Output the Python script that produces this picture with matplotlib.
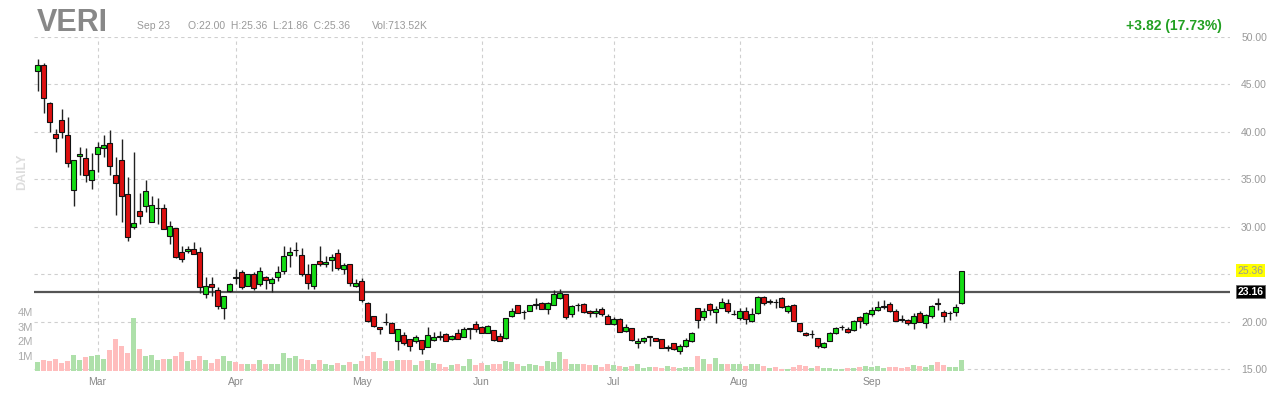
import matplotlib
matplotlib.use("Agg")
import matplotlib.pyplot as plt
import numpy as np
import pandas as pd

plt.rcParams['font.family'] = ['Liberation Sans', 'DejaVu Sans']

# trading calendar, Feb 12 .. Sep 23 2021
holidays = ['2021-02-15', '2021-04-02', '2021-05-31', '2021-07-05', '2021-09-06']
dates = pd.bdate_range('2021-02-12', '2021-09-23')
dates = dates[~dates.isin(pd.to_datetime(holidays))]

opens = [46.4, 47.0, 43.0, 39.8, 41.2, 39.7, 33.9, 37.5, 37.2, 34.9,
         37.7, 38.35, 38.8, 35.45, 37.0, 33.5, 30.0, 31.7, 32.2, 30.5,
         31.95, 31.95, 29.0, 29.85, 27.35, 27.4, 27.7, 27.35, 22.9, 24.0,
         23.3, 21.4, 23.2, 24.75, 25.25, 23.8, 25.0, 24.0, 24.75, 24.1,
         24.65, 25.3, 27.0, 27.5, 27.0, 25.05, 23.8, 26.4, 26.1, 26.45,
         27.2, 25.5, 26.1, 23.8, 24.25, 21.95, 20.6, 19.45, 19.95, 19.9,
         17.9, 18.6, 18.2, 17.9, 18.1, 17.35, 18.05, 18.5, 18.65, 18.2,
         18.75, 18.4, 19.25, 19.7, 19.4, 18.8, 19.15, 18.5, 18.25, 20.6,
         21.7, 21.0, 21.15, 21.75, 22.0, 21.3, 21.7, 22.45, 22.9, 20.75,
         21.7, 21.9, 21.1, 20.95, 21.3, 20.6, 19.75, 20.3, 19.05, 19.3,
         17.7, 18.0, 18.4, 18.25, 18.15, 17.2, 17.7, 16.9, 17.45, 17.95,
         21.45, 20.5, 21.9, 21.05, 21.45, 22.0, 20.75, 20.4, 21.15, 20.1,
         20.9, 22.55, 22.1, 22.1, 22.45, 21.15, 21.75, 19.8, 18.8, 18.7,
         18.25, 17.3, 18.0, 18.8, 19.4, 19.25, 19.1, 20.45, 19.8, 20.8,
         21.2, 21.55, 21.85, 21.1, 20.22, 20.2, 19.8, 20.95, 19.9, 20.55,
         21.95, 21.05, 20.9, 21.0, 22.0]
highs = [47.7, 47.3, 43.15, 40.3, 42.4, 41.6, 37.0, 38.4, 38.3, 37.8,
         38.95, 39.65, 40.2, 37.4, 39.2, 35.2, 37.9, 33.6, 34.9, 33.2,
         33.0, 32.4, 30.6, 29.85, 28.0, 28.0, 28.4, 27.9, 24.7, 24.7,
         23.6, 22.7, 24.1, 25.5, 25.4, 25.0, 25.25, 25.8, 24.8, 24.65,
         25.9, 27.95, 27.85, 28.4, 27.8, 26.1, 26.1, 27.95, 26.9, 27.1,
         27.7, 26.2, 26.1, 24.5, 24.6, 22.05, 20.6, 19.45, 20.9, 19.95,
         19.25, 18.9, 18.2, 18.6, 18.1, 19.45, 18.9, 19.0, 18.75, 18.6,
         19.25, 19.4, 19.25, 20.1, 19.55, 19.6, 19.15, 18.75, 20.35, 21.4,
         21.75, 21.2, 21.8, 22.5, 22.1, 22.1, 23.35, 23.4, 22.9, 21.7,
         22.0, 22.0, 21.2, 21.4, 21.5, 20.75, 20.5, 20.4, 19.75, 19.3,
         18.25, 18.4, 18.5, 18.3, 18.15, 17.55, 17.7, 17.6, 18.25, 18.9,
         21.45, 21.4, 22.0, 21.6, 22.5, 22.4, 21.2, 21.4, 21.5, 21.4,
         22.65, 22.65, 22.4, 22.4, 22.55, 21.7, 21.85, 19.8, 18.95, 19.15,
         18.25, 17.85, 18.95, 19.4, 19.65, 19.4, 20.2, 20.6, 21.0, 21.55,
         22.2, 22.3, 22.1, 21.35, 20.7, 20.3, 20.95, 21.15, 20.8, 21.7,
         22.5, 21.25, 21.15, 21.9, 25.36]
lows = [44.3, 42.0, 40.0, 37.9, 39.4, 36.3, 32.2, 35.5, 34.7, 34.0,
        35.8, 37.4, 35.4, 31.2, 30.5, 28.5, 29.8, 30.3, 31.6, 30.5,
        30.3, 29.8, 28.2, 26.7, 26.3, 27.2, 27.1, 23.0, 22.5, 22.7,
        21.3, 20.3, 23.1, 24.0, 23.4, 23.8, 23.3, 23.8, 23.4, 23.1,
        24.3, 25.0, 25.75, 26.9, 24.8, 23.45, 23.45, 25.85, 25.75, 25.35,
        25.4, 25.0, 23.8, 23.6, 22.05, 19.95, 19.45, 18.7, 19.6, 18.75,
        17.0, 17.5, 16.85, 17.7, 16.6, 17.3, 17.9, 18.1, 18.0, 18.1,
        18.15, 18.4, 18.2, 18.9, 18.8, 18.75, 18.0, 17.9, 18.15, 20.5,
        20.9, 20.3, 21.1, 21.3, 21.35, 20.8, 21.7, 22.4, 20.3, 20.45,
        21.15, 20.9, 20.5, 20.5, 20.6, 19.75, 19.65, 18.9, 18.95, 18.0,
        17.2, 17.7, 17.45, 17.9, 17.2, 16.9, 17.0, 16.55, 17.35, 17.8,
        19.3, 20.2, 20.7, 19.8, 21.4, 20.9, 20.7, 20.2, 19.75, 20.0,
        20.8, 21.7, 21.85, 21.4, 21.4, 20.9, 20.05, 18.9, 18.45, 18.25,
        17.2, 17.2, 17.9, 18.7, 19.15, 18.8, 19.05, 19.3, 19.6, 20.55,
        21.15, 21.3, 21.05, 20.05, 19.95, 19.65, 19.2, 19.95, 19.3, 20.35,
        21.2, 20.0, 20.2, 20.6, 21.86]
closes = [47.0, 43.6, 41.0, 39.4, 40.0, 36.7, 37.0, 37.7, 35.4, 36.0,
          38.4, 38.6, 36.4, 34.6, 33.2, 28.9, 30.4, 31.1, 33.8, 32.3,
          31.95, 29.8, 30.1, 26.8, 26.6, 27.65, 27.1, 23.6, 23.8, 23.6,
          21.6, 22.7, 24.0, 24.55, 23.6, 25.0, 23.5, 25.3, 24.4, 24.45,
          25.2, 26.9, 27.35, 27.5, 25.05, 24.1, 26.05, 26.1, 26.3, 26.85,
          25.7, 25.95, 24.1, 24.1, 22.3, 20.05, 19.55, 19.2, 19.95, 18.8,
          19.25, 17.7, 17.45, 18.4, 17.1, 18.6, 18.4, 18.35, 18.0, 18.5,
          18.15, 19.25, 19.25, 19.2, 18.8, 19.55, 18.05, 18.0, 20.35, 21.15,
          20.95, 21.0, 21.7, 21.9, 21.35, 22.0, 22.9, 23.0, 20.5, 21.6,
          21.7, 21.05, 20.9, 21.15, 20.75, 19.75, 20.25, 18.95, 19.4, 18.05,
          17.95, 18.3, 18.4, 18.0, 17.25, 17.35, 17.1, 17.45, 18.05, 18.75,
          20.15, 21.15, 21.2, 21.3, 22.1, 21.1, 20.75, 21.15, 20.3, 20.8,
          22.55, 21.95, 22.1, 22.05, 21.5, 21.6, 20.1, 19.0, 18.6, 18.7,
          17.4, 17.7, 18.8, 19.35, 19.4, 18.9, 20.1, 20.05, 20.9, 21.2,
          21.5, 21.55, 21.1, 20.1, 20.18, 19.8, 20.6, 20.0, 20.7, 21.6,
          21.9, 20.55, 20.9, 21.5, 25.36]
volumes = [0.61, 0.72, 0.65, 0.79, 0.52, 0.65, 1.06, 0.74, 0.93, 0.99,
           1.06, 0.79, 1.40, 2.14, 1.67, 1.22, 3.59, 1.47, 0.99, 1.06,
           0.72, 0.79, 0.79, 0.99, 1.26, 0.65, 0.72, 0.99, 0.72, 0.52,
           0.79, 0.99, 0.65, 0.59, 0.50, 0.45, 0.50, 0.72, 0.45, 0.45,
           0.45, 1.20, 0.88, 0.99, 0.79, 0.72, 0.45, 0.72, 0.45, 0.38,
           0.54, 0.38, 0.61, 0.45, 0.68, 0.99, 1.26, 0.86, 0.68, 0.68,
           0.74, 0.74, 0.74, 0.38, 0.68, 0.74, 0.54, 0.45, 0.27, 0.38,
           0.45, 0.32, 0.79, 0.38, 0.54, 0.38, 0.45, 0.45, 0.65, 0.60,
           0.45, 0.32, 0.45, 0.40, 0.32, 0.65, 0.60, 1.29, 0.79, 0.50,
           0.50, 0.45, 0.40, 0.40, 0.27, 0.45, 0.38, 0.32, 0.27, 0.32,
           0.50, 0.20, 0.27, 0.27, 0.23, 0.32, 0.27, 0.23, 0.27, 0.27,
           0.99, 0.83, 0.50, 0.90, 0.50, 0.45, 0.45, 0.50, 0.32, 0.45,
           0.45, 0.32, 0.23, 0.27, 0.14, 0.16, 0.27, 0.38, 0.32, 0.23,
           0.32, 0.23, 0.23, 0.16, 0.16, 0.23, 0.23, 0.27, 0.32, 0.27,
           0.32, 0.23, 0.27, 0.27, 0.23, 0.27, 0.38, 0.32, 0.27, 0.38,
           0.61, 0.41, 0.27, 0.27, 0.71352]  # millions

price_ticks = [15, 20, 25, 30, 35, 40, 45, 50]
vol_ticks = [1, 2, 3, 4]
ref_level = 23.16
last_close = 25.36
change, change_pct = 3.82, 17.73

GREEN, RED = '#14dc14', '#dd0f0f'
VGREEN, VRED = '#aee0aa', '#ffbdbd'
GRID = '#cfcfcf'

W, H = 1280, 400
fig = plt.figure(figsize=(12.8, 4), dpi=100)
rect = [34 / W, (H - 371) / H, (1230 - 34) / W, (371 - 37) / H]
ax = fig.add_axes(rect)
axv = fig.add_axes(rect, sharex=ax)
ax.set_zorder(1)
axv.set_zorder(2)
axv.patch.set_visible(False)

x = np.arange(len(dates))
o, h, l, c = map(np.array, (opens, highs, lows, closes))
up = c >= o

# candles
ax.vlines(x, l, h, color='#222222', lw=1, zorder=3)
ax.bar(x, np.maximum(np.abs(c - o), 0.04), bottom=np.minimum(o, c), width=0.78,
       color=np.where(up, GREEN, RED), edgecolor='#111111', linewidth=0.8, zorder=4)
ax.axhline(ref_level, color='#555555', lw=1.6, zorder=2)

ax.set_ylim(14.79, 50)
ax.set_xlim(-0.6, 198.75)
ax.set_yticks(price_ticks)
# the 25.00 label sits under the last-price tag
ax.set_yticklabels(['' if v == 25 else f'{v:.2f}' for v in price_ticks])
ax.yaxis.tick_right()
ax.tick_params(axis='y', length=0, pad=8, labelsize=7.5, labelcolor='#999999')

first_idx = [np.where(dates.month == m)[0][0] for m in range(3, 10)]
ax.set_xticks(first_idx)
ax.set_xticklabels([dates[i].strftime('%b') for i in first_idx])
ax.tick_params(axis='x', length=0, pad=4, labelsize=7.5, labelcolor='#888888')
ax.grid(True, color=GRID, lw=0.8, linestyle=(0, (3, 3)))
ax.set_axisbelow(True)
for s in ax.spines.values():
    s.set_visible(False)

# volume
axv.bar(x, volumes, width=0.8, color=np.where(up, VGREEN, VRED), zorder=2)
axv.set_ylim(0, 22.6)
axv.set_yticks(vol_ticks)
axv.set_yticklabels([f'{v}M' for v in vol_ticks])
axv.yaxis.tick_left()
axv.tick_params(axis='y', length=0, pad=1, labelsize=8, labelcolor='#aaaaaa')
axv.tick_params(axis='x', bottom=False, labelbottom=False)
for s in axv.spines.values():
    s.set_visible(False)

# right-side price tags
tr = ax.get_yaxis_transform()
ax.text(1.0065, last_close, f'{last_close:.2f}', transform=tr, fontsize=7.5, color='#999999',
        va='center', ha='left', zorder=6,
        bbox=dict(boxstyle='square,pad=0.15', fc='#ffff00', ec='none'))
ax.text(1.0065, ref_level, f'{ref_level:.2f}', transform=tr, fontsize=7.5, color='white',
        fontweight='bold', va='center', ha='left', zorder=6,
        bbox=dict(boxstyle='square,pad=0.15', fc='black', ec='#666666', lw=0.6))

# header
fig.text(37 / W, 1 - 31 / H, 'VERI', fontsize=22, fontweight='bold', color='#888888', va='baseline')
last = dates[-1]
fig.text(137 / W, 1 - 29 / H, last.strftime('%b %d'), fontsize=7.5, color='#999999', va='baseline')
fig.text(188 / W, 1 - 29 / H,
         f'O:{opens[-1]:.2f}  H:{highs[-1]:.2f}  L:{lows[-1]:.2f}  C:{closes[-1]:.2f}',
         fontsize=7.5, color='#999999', va='baseline')
fig.text(372 / W, 1 - 29 / H, f'Vol:{volumes[-1] * 1000:.2f}K', fontsize=7.5, color='#999999',
         va='baseline')
fig.text(1222 / W, 1 - 30 / H, f'+{change:.2f} ({change_pct:.2f}%)', fontsize=10,
         fontweight='bold', color='#22a022', ha='right', va='baseline')
fig.text(22 / W, 1 - 172 / H, 'DAILY', fontsize=9, fontweight='bold', color='#dddddd',
         rotation=90, ha='center', va='center')

fig.savefig('out.png', dpi=100)
